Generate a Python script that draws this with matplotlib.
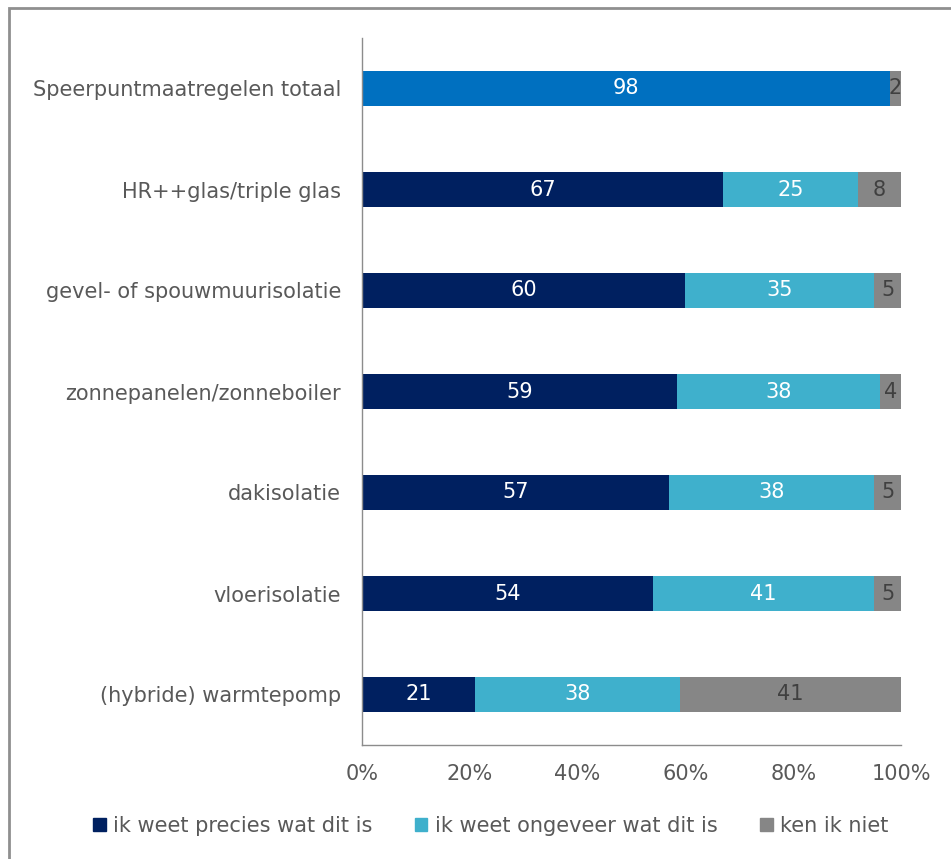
import numpy as np
import matplotlib.pyplot as plt
from matplotlib.patches import Patch, Rectangle

categories = ['Speerpuntmaatregelen totaal', 'HR++glas/triple glas',
              'gevel- of spouwmuurisolatie', 'zonnepanelen/zonneboiler',
              'dakisolatie', 'vloerisolatie', '(hybride) warmtepomp']
precies = [98, 67, 60, 59, 57, 54, 21]
ongeveer = [0, 25, 35, 38, 38, 41, 38]
niet = [2, 8, 5, 4, 5, 5, 41]
legend_labels = ['ik weet precies wat dit is', 'ik weet ongeveer wat dit is', 'ken ik niet']
x_ticks = [0, 20, 40, 60, 80, 100]

NAVY = '#002060'
LIGHT = '#3FB0CC'
GREY = '#868686'
TOTAL = '#0070C0'
TXT = '#595959'

plt.rcParams['font.family'] = 'DejaVu Sans'

fig = plt.figure(figsize=(9.51, 8.59), dpi=100)
ax = fig.add_axes([362 / 951, 114 / 859, 539 / 951, 707 / 859])

# excel 100% stacked: normalise each row
data = np.array([precies, ongeveer, niet], dtype=float)
totals = data.sum(axis=0)
shares = data / totals * 100

y = np.arange(len(categories))
colors = [NAVY, LIGHT, GREY]
left = np.zeros(len(categories))
for i, (row, raw) in enumerate(zip(shares, data)):
    cols = [colors[i]] * len(categories)
    if i == 0:
        cols[0] = TOTAL  # the total bar has its own colour
    ax.barh(y, row, left=left, height=0.35, color=cols, edgecolor='none')
    for j in range(len(categories)):
        if raw[j] <= 0:
            continue
        tc = '#404040' if i == 2 else 'white'
        ax.text(left[j] + row[j] / 2, y[j], f'{int(raw[j])}', ha='center', va='center',
                color=tc, fontsize=15)
    left += row

ax.set_ylim(len(categories) - 0.5, -0.5)
ax.set_xlim(0, 100)
ax.set_yticks(y)
ax.set_yticklabels(categories, fontsize=15, color=TXT)
ax.set_xticks(x_ticks)
ax.set_xticklabels([f'{t}%' for t in x_ticks], fontsize=15, color=TXT)
ax.tick_params(axis='both', length=0)
ax.tick_params(axis='y', pad=15)
ax.tick_params(axis='x', pad=14)
for s in ['top', 'right']:
    ax.spines[s].set_visible(False)
for s in ['left', 'bottom']:
    ax.spines[s].set_color('#8c8c8c')
    ax.spines[s].set_linewidth(1)

handles = [Patch(color=c) for c in colors]
fig.legend(handles, legend_labels, loc='center', bbox_to_anchor=(0.516, 1 - 826 / 859),
           ncol=3, frameon=False, fontsize=15, labelcolor=TXT,
           handlelength=0.6, handleheight=0.6, handletextpad=0.35, columnspacing=2.05)

# outer chart frame, runs off the right and bottom edge
fig.patches.append(Rectangle((9 / 951, -0.05), 1.1, 1.05 - 8 / 859,
                             transform=fig.transFigure, fill=False,
                             edgecolor='#8f8f8f', linewidth=2))

fig.savefig('out.png', dpi=100)
